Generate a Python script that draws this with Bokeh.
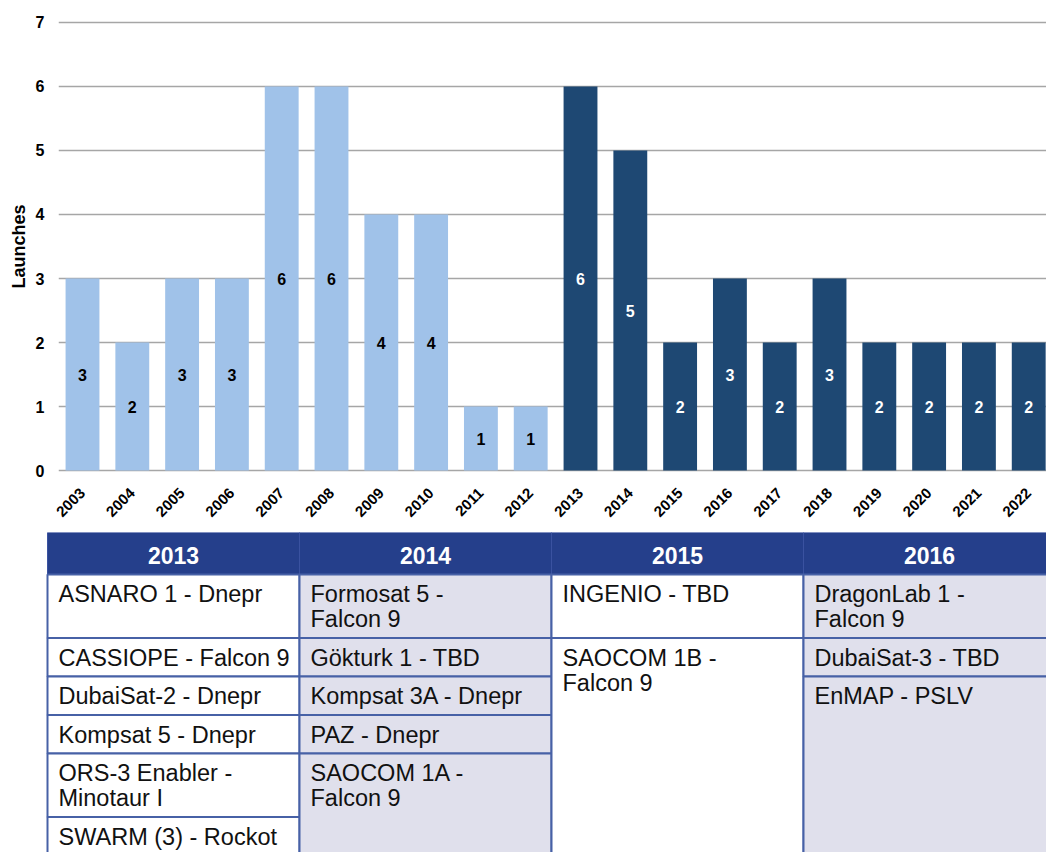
import math
from bokeh.plotting import figure
from bokeh.models import Range1d, FixedTicker, ColumnDataSource
from bokeh.core.properties import value
from bokeh.embed import file_html
from bokeh.resources import INLINE

# ---------------- data ----------------
years = [2003, 2004, 2005, 2006, 2007, 2008, 2009, 2010, 2011, 2012,
         2013, 2014, 2015, 2016, 2017, 2018, 2019, 2020, 2021, 2022]
launches = [3, 2, 3, 3, 6, 6, 4, 4, 1, 1,
            6, 5, 2, 3, 2, 3, 2, 2, 2, 2]
first_planned_year = 2013
y_ticks = [0, 1, 2, 3, 4, 5, 6, 7]

table_years = ["2013", "2014", "2015", "2016"]
col_2013 = ["ASNARO 1 - Dnepr", "CASSIOPE - Falcon 9", "DubaiSat-2 - Dnepr",
            "Kompsat 5 - Dnepr", "ORS-3 Enabler -\nMinotaur I", "SWARM (3) - Rockot"]
col_2014 = ["Formosat 5 -\nFalcon 9", "Gökturk 1 - TBD", "Kompsat 3A - Dnepr",
            "PAZ - Dnepr", "SAOCOM 1A -\nFalcon 9"]
col_2015 = ["INGENIO - TBD", "SAOCOM 1B -\nFalcon 9"]
col_2016 = ["DragonLab 1 -\nFalcon 9", "DubaiSat-3 - TBD", "EnMAP - PSLV"]
table_cols = [col_2013, col_2014, col_2015, col_2016]

# ---------------- styles ----------------
FONT = value("Liberation Sans")
LIGHT = "#a0c2e9"
DARK = "#1e4873"
HEADER = "#253f8b"
LAVENDER = "#e0e0ec"
BORDER = "#4761a6"
PAGE_W = 1046

# ---------------- chart ----------------
p = figure(width=PAGE_W, height=532, output_backend="svg", toolbar_location=None,
           x_range=Range1d(2002.518, 2022.357), y_range=Range1d(-0.03, 7.03),
           min_border_left=58, min_border_right=0, min_border_top=20,
           min_border_bottom=60)
p.background_fill_color = "white"
p.border_fill_color = "white"
p.outline_line_color = None

src = ColumnDataSource(dict(
    x=years,
    top=launches,
    mid=[v / 2 for v in launches],
    lab=[str(v) for v in launches],
    color=[LIGHT if y < first_planned_year else DARK for y in years],
    tcolor=["#000000" if y < first_planned_year else "#ffffff" for y in years],
))
p.vbar(x="x", top="top", bottom=0, width=0.68, fill_color="color",
       line_color=None, source=src)
p.text(x="x", y="mid", text="lab", text_color="tcolor", text_align="center",
       text_baseline="middle", text_font=FONT, text_font_style="bold",
       text_font_size="16px", source=src)

p.xgrid.grid_line_color = None
p.ygrid.grid_line_color = "#a6a6a6"
p.ygrid.grid_line_width = 1.5
p.ygrid.ticker = FixedTicker(ticks=y_ticks)

p.yaxis.ticker = FixedTicker(ticks=y_ticks)
p.yaxis.axis_line_color = None
p.yaxis.major_tick_line_color = None
p.yaxis.minor_tick_line_color = None
p.yaxis.major_tick_in = 0
p.yaxis.major_tick_out = 0
p.yaxis.major_label_standoff = 14
p.yaxis.major_label_text_font = "Liberation Sans"
p.yaxis.major_label_text_font_style = "bold"
p.yaxis.major_label_text_font_size = "16px"
p.yaxis.major_label_text_color = "#000000"
p.yaxis.axis_label = "Launches"
p.yaxis.axis_label_text_font = "Liberation Sans"
p.yaxis.axis_label_text_font_style = "bold"
p.yaxis.axis_label_text_font_size = "18px"
p.yaxis.axis_label_text_color = "#000000"
p.yaxis.axis_label_standoff = 4

p.xaxis.ticker = FixedTicker(ticks=years)
p.xaxis.major_label_overrides = {y: str(y) for y in years}
p.xaxis.axis_line_color = None
p.xaxis.major_tick_line_color = None
p.xaxis.minor_tick_line_color = None
p.xaxis.major_tick_in = 0
p.xaxis.major_tick_out = 0
p.xaxis.major_label_standoff = 18
p.xaxis.major_label_orientation = math.pi / 4
p.xaxis.major_label_text_font = "Liberation Sans"
p.xaxis.major_label_text_font_style = "bold"
p.xaxis.major_label_text_font_size = "15px"
p.xaxis.major_label_text_color = "#000000"

# ---------------- table ----------------
T_H = 320
t = figure(width=PAGE_W, height=T_H, output_backend="svg",
           toolbar_location=None,
           x_range=Range1d(0, PAGE_W), y_range=Range1d(T_H, 0),
           x_axis_type=None, y_axis_type=None,
           min_border_left=0, min_border_right=0,
           min_border_top=0, min_border_bottom=0)
t.outline_line_color = None
t.grid.visible = False
t.background_fill_color = "white"
t.border_fill_color = "white"

tab_left = 47
col_w = 252
header_h = 42
pad = 13.5
line_h = 25
first_mid = 19.5
text_dx = 11
bottom_limit = T_H + 80

nrows = max(len(c) for c in table_cols)
row_tops = [header_h]
for r in range(nrows):
    cand = [len(c[r].split("\n")) for c in table_cols
            if r < len(c) and not (r == len(c) - 1 and len(c) < nrows)]
    lines = max(cand) if cand else 1
    row_tops.append(row_tops[-1] + pad + line_h * lines)

# header
hl, hr, ht, hb = [], [], [], []
for ci, name in enumerate(table_years):
    hl.append(tab_left + ci * col_w)
    hr.append(tab_left + (ci + 1) * col_w)
    ht.append(0)
    hb.append(header_h)
t.quad(left=hl, right=hr, top=ht, bottom=hb, fill_color=HEADER,
       line_color="#3a52a0", line_width=1)
t.text(x=[(a + b) / 2 for a, b in zip(hl, hr)], y=[22.5] * len(table_years),
       text=table_years, text_color="white", text_align="center",
       text_baseline="middle", text_font=FONT, text_font_style="bold",
       text_font_size="23px")

# cells
cl, cr, ctp, cb, cf = [], [], [], [], []
tx, ty, tt = [], [], []
for ci, items in enumerate(table_cols):
    left = tab_left + ci * col_w
    for i, item in enumerate(items):
        top = row_tops[i]
        bot = row_tops[i + 1] if i < len(items) - 1 else bottom_limit
        cl.append(left)
        cr.append(left + col_w)
        ctp.append(top)
        cb.append(bot)
        cf.append("#ffffff" if ci % 2 == 0 else LAVENDER)
        for j, ln in enumerate(item.split("\n")):
            tx.append(left + text_dx)
            ty.append(top + first_mid + j * line_h)
            tt.append(ln)
t.quad(left=cl, right=cr, top=ctp, bottom=cb, fill_color=cf,
       line_color=BORDER, line_width=2)
t.text(x=tx, y=ty, text=tt, text_color="#111111", text_align="left",
       text_baseline="middle", text_font=FONT, text_font_size="23.5px")

open("out.html", "w").write(file_html([p, t], INLINE))
